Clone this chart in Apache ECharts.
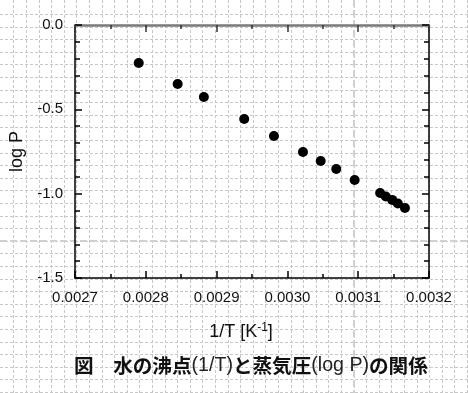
<!DOCTYPE html>
<html>
<head>
<meta charset="utf-8">
<script src="https://cdn.jsdelivr.net/npm/echarts@6/dist/echarts.min.js"></script>
<style>
html,body{margin:0;padding:0;background:#fff;}
#wrap{position:relative;width:468px;height:393px;}
#bg{position:absolute;left:0;top:0;}
#chart{position:absolute;left:0;top:0;width:468px;height:393px;}
</style>
</head>
<body>
<div id="wrap">
<canvas id="bg" width="468" height="393"></canvas>
<div id="chart"></div>
</div>
<script>
// Data: 1/T [K^-1] and log P
const invT = [0.002790, 0.002845, 0.002882, 0.002939, 0.002981, 0.003022, 0.003047, 0.003069, 0.003095, 0.003131, 0.003139, 0.003148, 0.003156, 0.003166];
const logP = [-0.225, -0.350, -0.427, -0.557, -0.658, -0.753, -0.806, -0.854, -0.919, -0.996, -1.017, -1.037, -1.058, -1.085];
const xTicks = ['0.0027','0.0028','0.0029','0.0030','0.0031','0.0032'];
const yTicks = ['-1.5','-1.0','-0.5','0.0'];

// graph-paper background (decoration)
(function(){
  const c = document.getElementById('bg').getContext('2d');
  c.fillStyle = '#fff'; c.fillRect(0,0,468,393);
  c.lineWidth = 1; c.strokeStyle = '#c8c8c8'; c.setLineDash([3,2]);
  for (let k = 0; k < 40; k++) {
    const x = Math.round(13.3 + 12.6*k) + 0.5;
    if (x > 468) break;
    c.beginPath(); c.moveTo(x,0); c.lineTo(x,393); c.stroke();
  }
  for (let k = 0; k < 40; k++) {
    const y = Math.round(14 + 12.6*k) + 0.5;
    if (y > 393) break;
    c.beginPath(); c.moveTo(0,y); c.lineTo(468,y); c.stroke();
  }
  c.lineWidth = 2; c.strokeStyle = '#d0d0d0'; c.setLineDash([7,3]);
  c.beginPath(); c.moveTo(354,0); c.lineTo(354,393); c.stroke();
  c.beginPath(); c.moveTo(0,241); c.lineTo(468,241); c.stroke();
})();

const chart = echarts.init(document.getElementById('chart'), null, {renderer:'canvas'});
const data = invT.map((x,i)=>[x, logP[i]]);
const xMin = 0.0027, xMax = 0.0032, xInt = 0.0001;
const fmtX = v => { const s = (Math.round(v*10000)/10000).toFixed(4); return xTicks.includes(s) ? s : ''; };
const fmtY = v => { const s = (Math.round(v*10)/10).toFixed(1); return yTicks.includes(s) ? s : ''; };
const lab = {color:'#111', fontFamily:'Liberation Sans, Arial, sans-serif', fontSize:15};
chart.setOption({
  animation:false,
  backgroundColor:'transparent',
  grid:{left:75, top:25, right:39, bottom:115},
  title:{
    text:'{b|図\u3000水の沸点}{n|(1/T)}{b|と蒸気圧}{n|(log P)}{b|の関係}',
    left:69, top:351,
    textStyle:{
      rich:{
        b:{fontFamily:'Noto Sans CJK JP', fontWeight:'bold', fontSize:19.6, color:'#111'},
        n:{fontFamily:'Liberation Sans, Arial, sans-serif', fontWeight:'normal', fontSize:19.6, color:'#222'}
      }
    }
  },
  xAxis:[{
    type:'value', min:xMin, max:xMax, interval:xInt, position:'bottom',
    name:'{a|1/T [K}{s|-1}{a|]}', nameLocation:'middle', nameGap:44,
    nameTextStyle:{padding:[0,22,0,0], rich:{
      a:{fontFamily:'Liberation Sans, Arial, sans-serif', fontSize:18, color:'#111'},
      s:{fontFamily:'Liberation Sans, Arial, sans-serif', fontSize:12, color:'#111', verticalAlign:'top', padding:[0,0,9,0]}
    }},
    axisLine:{show:true, onZero:false, lineStyle:{color:'#000', width:1.5}},
    axisTick:{show:true, inside:true, length:7, lineStyle:{color:'#000', width:1.5}},
    minorTick:{show:true, splitNumber:2, length:4, lineStyle:{color:'#000', width:1.5}},
    axisLabel:Object.assign({margin:12, formatter:fmtX}, lab),
    splitLine:{show:false}
  },{
    type:'value', min:xMin, max:xMax, interval:xInt, position:'top',
    axisLine:{show:true, onZero:false, lineStyle:{color:'#7a7a7a', width:2.5}},
    axisTick:{show:true, inside:true, length:7, lineStyle:{color:'#333', width:1.5}},
    minorTick:{show:true, splitNumber:2, length:4, lineStyle:{color:'#333', width:1.5}},
    axisLabel:{show:false}, splitLine:{show:false}
  }],
  yAxis:[{
    type:'value', min:-1.5, max:0, interval:0.5, position:'left',
    name:'log P', nameLocation:'middle', nameGap:47, nameRotate:90,
    nameTextStyle:{fontFamily:'Liberation Sans, Arial, sans-serif', fontSize:18, color:'#111'},
    axisLine:{show:true, onZero:false, lineStyle:{color:'#000', width:1.5}},
    axisTick:{show:true, inside:true, length:7, lineStyle:{color:'#000', width:1.5}},
    minorTick:{show:true, splitNumber:5, length:5, lineStyle:{color:'#000', width:1.5}},
    axisLabel:Object.assign({margin:12, formatter:fmtY}, lab),
    splitLine:{show:false}
  },{
    type:'value', min:-1.5, max:0, interval:0.5, position:'right',
    axisLine:{show:true, onZero:false, lineStyle:{color:'#000', width:1.5}},
    axisTick:{show:true, inside:true, length:7, lineStyle:{color:'#000', width:1.5}},
    minorTick:{show:true, splitNumber:5, length:5, lineStyle:{color:'#000', width:1.5}},
    axisLabel:{show:false}, splitLine:{show:false}
  }],
  series:[{
    type:'scatter', xAxisIndex:0, yAxisIndex:0, data:data,
    symbol:'circle', symbolSize:10, itemStyle:{color:'#000', opacity:1}
  }]
});
</script>
</body>
</html>
